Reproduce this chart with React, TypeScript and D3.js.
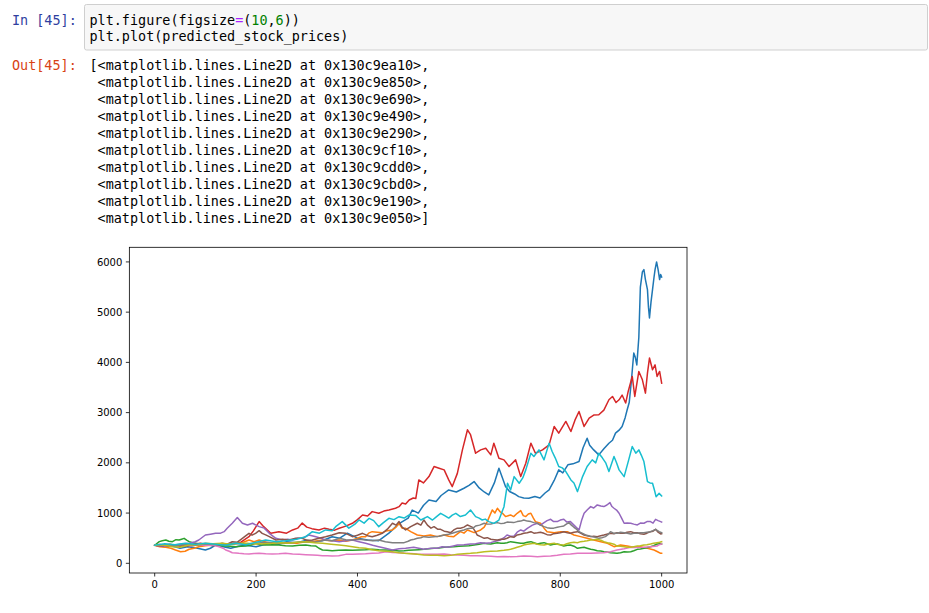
import React from "react";
import * as d3 from "d3";

const xTicks = [0, 200, 400, 600, 800, 1000];
const yTicks = [0, 1000, 2000, 3000, 4000, 5000, 6000];
const xDomain = [-50, 1050];
const yDomain = [-193, 6291];

const codeLine1 = [
  { t: "plt.figure(figsize", c: "#000" },
  { t: "=", c: "#AA22FF" },
  { t: "(", c: "#000" },
  { t: "10", c: "#008000" },
  { t: ",", c: "#000" },
  { t: "6", c: "#008000" },
  { t: "))", c: "#000" },
];
const codeLine2 = "plt.plot(predicted_stock_prices)";
const outAddrs = ["130c9ea10", "130c9e850", "130c9e690", "130c9e490", "130c9e290", "130c9cf10", "130c9cdd0", "130c9cbd0", "130c9e190", "130c9e050"];

const colors = ["#1f77b4", "#ff7f0e", "#2ca02c", "#d62728", "#9467bd", "#8c564b", "#e377c2", "#7f7f7f", "#bcbd22", "#17becf"];

const blue: [number, number][] = [[0,360],[20,330],[35,345],[50,300],[65,330],[80,310],[100,265],[110,300],[120,360],[135,330],[150,300],[165,340],[180,360],[200,330],[215,370],[230,400],[245,380],[260,430],[280,410],[300,460],[315,430],[330,450],[350,530],[365,500],[380,600],[400,500],[420,465],[442,450],[462,600],[482,790],[500,900],[508,1060],[520,1000],[530,1150],[541,1260],[555,1230],[565,1350],[580,1460],[595,1420],[610,1494],[620,1550],[630,1627],[640,1500],[650,1420],[659,1361],[670,1600],[679,1893],[686,1700],[692,1527],[700,1430],[710,1380],[718,1327],[728,1300],[738,1294],[750,1330],[760,1300],[770,1400],[778,1460],[788,1650],[797,1860],[805,1800],[815,1960],[825,1980],[837,2026],[845,2300],[853,2491],[858,2350],[866,2258],[876,2159],[886,2280],[896,2391],[903,2450],[909,2591],[916,2650],[922,2724],[928,2900],[932,3057],[936,3200],[940,3600],[945,4186],[948,4100],[951,3950],[955,4500],[958,5500],[962,5800],[965,5848],[968,5649],[972,5449],[974,5100],[976,4884],[979,5200],[982,5449],[985,5700],[987,5848],[990,6000],[993,5848],[996,5649],[998,5750],[1000,5700]];
const orange: [number, number][] = [[0,360],[10,330],[22,318],[32,300],[41,265],[51,231],[60,240],[68,280],[78,300],[87,331],[100,350],[120,370],[140,364],[160,390],[170,398],[186,464],[196,430],[206,464],[220,420],[232,398],[250,410],[265,411],[280,400],[298,431],[315,440],[331,464],[348,450],[364,464],[377,440],[390,464],[400,500],[408,530],[416,531],[422,600],[429,630],[439,620],[449,610],[459,650],[469,664],[476,720],[482,797],[488,700],[495,697],[505,630],[518,564],[531,543],[544,564],[557,531],[571,564],[580,540],[590,531],[603,630],[610,600],[617,664],[630,610],[643,664],[650,720],[656,830],[661,950],[666,1063],[671,1000],[676,1096],[681,1030],[686,996],[692,930],[702,963],[708,930],[715,996],[722,1049],[727,950],[732,930],[737,980],[742,996],[747,900],[751,830],[761,797],[768,700],[774,630],[788,610],[801,630],[814,630],[827,564],[840,531],[853,497],[866,464],[880,431],[893,398],[906,331],[919,364],[932,345],[945,318],[958,331],[972,298],[985,265],[992,230],[998,198],[1000,200]];
const green: [number, number][] = [[0,360],[9,431],[15,450],[22,464],[28,440],[35,431],[42,470],[48,464],[53,480],[58,497],[63,460],[68,431],[75,410],[81,398],[90,380],[100,364],[110,370],[120,364],[130,350],[140,344],[150,340],[160,331],[170,340],[179,344],[189,360],[199,398],[209,370],[219,364],[232,370],[245,364],[258,350],[272,344],[285,360],[298,364],[308,350],[318,344],[324,300],[331,265],[340,260],[350,251],[363,260],[377,265],[390,260],[403,265],[416,270],[429,278],[442,270],[456,265],[469,258],[482,245],[492,251],[501,260],[511,265],[521,272],[531,278],[541,290],[551,298],[561,305],[571,318],[580,325],[590,331],[600,340],[610,344],[620,350],[630,364],[640,380],[650,398],[656,390],[663,384],[670,400],[676,411],[683,400],[689,398],[695,410],[702,431],[709,420],[715,411],[722,400],[728,398],[735,420],[742,431],[748,410],[755,384],[761,400],[768,411],[774,390],[781,364],[787,380],[794,384],[800,370],[807,344],[814,360],[820,364],[827,340],[834,298],[840,310],[847,318],[853,300],[860,278],[866,270],[873,251],[880,245],[886,231],[892,225],[899,211],[906,205],[912,198],[919,210],[926,231],[932,225],[939,231],[945,250],[952,278],[958,285],[965,298],[971,310],[978,331],[984,350],[991,384],[996,390],[1000,384]];
const red: [number, number][] = [[0,360],[15,350],[30,380],[50,340],[70,370],[90,400],[110,360],[130,390],[150,380],[170,420],[186,530],[195,650],[206,830],[215,730],[229,597],[245,630],[260,600],[272,664],[282,700],[291,800],[300,720],[310,690],[324,664],[335,700],[344,680],[355,660],[364,697],[377,740],[390,797],[400,870],[410,963],[420,940],[429,1029],[442,996],[452,1040],[462,1063],[475,1096],[482,1128],[488,1200],[495,1180],[502,1261],[510,1300],[515,1290],[521,1660],[530,1600],[541,1726],[551,1926],[561,1893],[571,1860],[580,1660],[587,1527],[597,1790],[607,2258],[617,2658],[623,2560],[633,2192],[643,2258],[653,2292],[663,2159],[669,2392],[679,2092],[689,2059],[699,1926],[712,2059],[722,1726],[732,1993],[742,2392],[751,2192],[765,2258],[778,2358],[788,2724],[797,2591],[811,2824],[821,2624],[829,2850],[837,3023],[847,2724],[857,2890],[866,2950],[876,2957],[886,3050],[896,3256],[903,3321],[910,3200],[916,3255],[922,3350],[929,3190],[934,3421],[942,3720],[947,3321],[955,3820],[962,3653],[968,3388],[972,3787],[976,4086],[982,3853],[987,3950],[991,3720],[996,3820],[1000,3588]];
const purple: [number, number][] = [[0,360],[15,340],[35,360],[50,380],[68,398],[80,430],[87,464],[100,564],[110,580],[120,597],[130,600],[137,630],[143,697],[153,797],[163,910],[173,797],[183,763],[193,797],[206,730],[216,700],[226,597],[239,497],[252,464],[262,480],[272,464],[282,500],[291,497],[304,564],[318,530],[328,500],[337,464],[350,450],[364,431],[377,450],[390,464],[403,430],[416,398],[430,360],[442,331],[455,300],[469,265],[482,290],[495,298],[511,318],[521,300],[531,278],[545,300],[557,298],[567,330],[577,318],[587,340],[597,364],[610,370],[623,384],[633,390],[643,411],[653,400],[663,411],[672,440],[682,464],[689,510],[695,564],[702,540],[709,545],[715,620],[722,664],[728,640],[735,697],[745,760],[755,797],[761,760],[768,810],[774,850],[781,876],[787,830],[794,830],[800,860],[807,876],[813,820],[820,830],[825,780],[830,730],[837,664],[842,850],[847,996],[853,1060],[860,1129],[866,1100],[873,1162],[880,1140],[886,1129],[892,1160],[898,1209],[902,1130],[906,1096],[911,1060],[916,996],[921,900],[926,797],[932,800],[939,797],[945,780],[952,763],[958,800],[965,797],[971,830],[978,830],[983,800],[988,876],[993,850],[998,830],[1000,820]];
const brown: [number, number][] = [[0,360],[20,350],[40,370],[60,340],[80,360],[100,370],[115,350],[133,398],[143,380],[153,430],[163,420],[173,497],[180,550],[186,597],[192,560],[199,597],[206,650],[212,597],[220,560],[226,530],[239,464],[252,480],[265,464],[278,500],[291,497],[300,460],[311,464],[324,500],[337,530],[350,564],[364,610],[377,597],[390,530],[400,560],[410,597],[420,550],[429,530],[439,560],[449,597],[459,680],[469,797],[476,760],[482,830],[488,720],[495,664],[505,730],[518,797],[525,760],[531,863],[538,760],[545,700],[551,730],[558,680],[564,677],[571,640],[577,630],[584,610],[590,664],[597,700],[603,697],[610,720],[617,763],[622,740],[627,716],[632,640],[636,564],[643,530],[650,497],[656,510],[663,478],[670,470],[676,464],[683,480],[689,478],[695,500],[702,530],[709,520],[715,564],[722,580],[728,597],[735,610],[742,630],[748,600],[755,610],[761,620],[768,597],[774,570],[781,564],[787,590],[794,597],[800,610],[807,630],[814,610],[820,597],[827,620],[834,630],[840,600],[847,564],[853,550],[860,531],[866,540],[873,531],[880,550],[886,564],[892,580],[899,597],[906,590],[912,610],[919,600],[926,597],[932,620],[939,630],[945,610],[952,610],[958,590],[965,580],[971,600],[978,630],[983,640],[988,677],[993,620],[998,584],[1000,590]];
const pink: [number, number][] = [[0,360],[10,380],[20,350],[30,370],[40,360],[55,380],[70,350],[85,370],[100,360],[114,364],[127,331],[135,300],[140,265],[147,240],[153,211],[160,205],[166,198],[176,190],[186,185],[196,195],[206,198],[219,190],[232,185],[245,190],[258,198],[272,185],[285,178],[298,172],[311,165],[321,160],[331,152],[340,148],[350,145],[363,150],[377,178],[390,180],[403,185],[416,190],[429,198],[442,205],[456,231],[469,215],[482,211],[495,198],[505,195],[518,185],[531,180],[544,178],[557,180],[571,185],[584,170],[597,165],[610,160],[623,152],[636,150],[650,145],[663,140],[676,132],[689,135],[702,132],[715,135],[728,145],[742,140],[755,132],[768,140],[781,145],[794,160],[807,178],[820,185],[834,198],[847,200],[860,198],[873,205],[886,211],[899,230],[912,265],[926,290],[939,318],[952,315],[965,318],[978,331],[991,344],[995,370],[1000,384]];
const gray: [number, number][] = [[0,360],[20,370],[40,350],[60,380],[80,360],[100,390],[120,370],[140,380],[160,400],[180,380],[200,400],[220,420],[240,400],[265,398],[280,420],[298,431],[315,420],[337,464],[350,450],[364,497],[377,470],[390,464],[403,480],[416,464],[430,450],[442,464],[455,430],[469,411],[482,411],[492,411],[500,440],[505,464],[512,480],[518,497],[525,510],[531,531],[541,520],[551,531],[561,540],[571,564],[580,580],[590,610],[600,640],[610,664],[617,690],[623,697],[628,700],[633,743],[641,760],[650,797],[656,780],[663,784],[670,800],[676,810],[683,790],[689,797],[695,820],[702,817],[708,810],[715,830],[722,840],[728,863],[735,840],[742,830],[748,810],[755,797],[761,760],[768,730],[774,710],[781,697],[787,700],[794,717],[800,730],[807,744],[812,780],[817,810],[822,760],[827,717],[832,680],[837,630],[843,600],[850,564],[856,550],[863,531],[869,520],[876,497],[882,510],[889,531],[894,570],[899,630],[905,600],[912,597],[919,620],[926,610],[932,600],[939,584],[945,600],[952,597],[958,610],[965,610],[971,620],[978,630],[983,650],[988,677],[995,630],[1000,610]];
const olive: [number, number][] = [[0,360],[15,370],[35,331],[50,320],[68,364],[85,370],[100,398],[115,390],[133,398],[150,380],[166,398],[183,400],[199,384],[215,390],[232,398],[248,410],[265,398],[280,420],[298,431],[315,410],[331,398],[348,380],[364,364],[377,350],[390,331],[403,310],[416,298],[429,270],[442,251],[456,240],[469,231],[482,211],[492,198],[505,190],[518,178],[531,165],[544,158],[557,160],[571,152],[584,158],[597,178],[610,190],[623,198],[636,210],[650,231],[663,240],[676,245],[689,260],[702,278],[709,300],[715,320],[722,340],[728,364],[735,380],[742,390],[748,398],[755,380],[761,370],[768,364],[774,380],[781,390],[788,398],[794,380],[800,370],[807,364],[813,390],[820,410],[827,420],[834,410],[840,431],[847,440],[853,450],[860,464],[866,470],[873,477],[880,460],[886,431],[893,410],[899,398],[906,380],[912,344],[919,340],[926,331],[932,320],[939,318],[945,330],[952,344],[958,350],[965,364],[971,370],[978,384],[984,400],[991,411],[996,420],[1000,431]];
const cyan: [number, number][] = [[0,360],[20,390],[40,370],[60,400],[80,380],[100,398],[120,380],[140,360],[160,400],[180,370],[200,420],[219,464],[240,430],[258,450],[280,480],[298,530],[311,630],[325,600],[337,664],[350,650],[357,730],[370,830],[383,700],[395,780],[403,863],[413,800],[423,896],[432,850],[442,729],[450,800],[462,895],[472,870],[482,928],[492,900],[502,962],[515,950],[525,862],[538,930],[548,862],[556,930],[564,995],[572,950],[580,900],[587,960],[594,995],[603,930],[613,960],[623,1061],[633,930],[640,900],[646,862],[652,880],[659,830],[669,795],[679,862],[689,1128],[696,1594],[702,1460],[709,1726],[719,1594],[726,1700],[732,1860],[742,2192],[748,2125],[758,2258],[768,2059],[778,2392],[784,2225],[790,2100],[797,1926],[804,1900],[811,1826],[821,1660],[827,1600],[834,1427],[844,1726],[853,1926],[863,2059],[870,2000],[876,2192],[883,2100],[890,1993],[896,1826],[906,2125],[911,2000],[916,1860],[926,1726],[935,2059],[942,2325],[949,2192],[955,2258],[960,2150],[965,2026],[972,1627],[977,1600],[982,1594],[986,1450],[989,1327],[995,1392],[1000,1341]];

const seriesList = [blue, orange, green, red, purple, brown, pink, gray, olive, cyan];

const MONO = "'DejaVu Sans Mono', monospace";
const SANS = "'DejaVu Sans', sans-serif";

export default function App() {
  const W = 929, H = 613;
  const left = 129.35, right = 687, top = 247.3, bottom = 573;
  const x = d3.scaleLinear().domain(xDomain).range([left, right]);
  const y = d3.scaleLinear().domain(yDomain).range([bottom, top]);
  const line = d3.line<[number, number]>().x(d => x(d[0])).y(d => y(d[1]));
  const fs = 13.45;
  const codeX = 89.5;
  const outStart = 70;
  const outStep = 17.04;

  return (
    <svg width={W} height={H} style={{ position: "absolute", left: 0, top: 0, background: "#fff" }}>
      <rect x={84.5} y={4.5} width={843} height={45.5} fill="#f7f7f7" stroke="#cfcfcf" strokeWidth={1} rx={2} />
      <text x={12} y={25} fontFamily={MONO} fontSize={fs} fill="#303F9F">In [45]:</text>
      <text x={codeX} y={25} fontFamily={MONO} fontSize={fs} xmlSpace="preserve">
        {codeLine1.map((s, i) => <tspan key={i} fill={s.c}>{s.t}</tspan>)}
      </text>
      <text x={codeX} y={41} fontFamily={MONO} fontSize={fs} fill="#000">{codeLine2}</text>
      <text x={12} y={outStart} fontFamily={MONO} fontSize={fs} fill="#D84315">Out[45]:</text>
      {outAddrs.map((a, i) => (
        <text key={a} x={codeX} y={outStart + i * outStep} fontFamily={MONO} fontSize={fs} fill="#000" style={{ whiteSpace: "pre" }}>
          {(i === 0 ? "[" : " ") + "<matplotlib.lines.Line2D at 0x" + a + ">" + (i === outAddrs.length - 1 ? "]" : ",")}
        </text>
      ))}
      <defs>
        <clipPath id="axclip">
          <rect x={left} y={top} width={right - left} height={bottom - top} />
        </clipPath>
      </defs>
      <g clipPath="url(#axclip)">
        {seriesList.map((s, i) => (
          <path key={i} d={line(s) || ""} fill="none" stroke={colors[i]} strokeWidth={1.5} strokeLinejoin="round" strokeLinecap="square" />
        ))}
      </g>
      <rect x={left} y={top} width={right - left} height={bottom - top} fill="none" stroke="#000" strokeWidth={0.8} />
      {xTicks.map(t => (
        <g key={"x" + t}>
          <line x1={x(t)} x2={x(t)} y1={bottom} y2={bottom + 3.5} stroke="#000" strokeWidth={0.8} />
          <text x={x(t)} y={588} textAnchor="middle" fontFamily={SANS} fontSize={10} fill="#000">{t}</text>
        </g>
      ))}
      {yTicks.map(t => (
        <g key={"y" + t}>
          <line x1={left - 3.5} x2={left} y1={y(t)} y2={y(t)} stroke="#000" strokeWidth={0.8} />
          <text x={left - 7} y={y(t) + 3.6} textAnchor="end" fontFamily={SANS} fontSize={10} fill="#000">{t}</text>
        </g>
      ))}
    </svg>
  );
}
